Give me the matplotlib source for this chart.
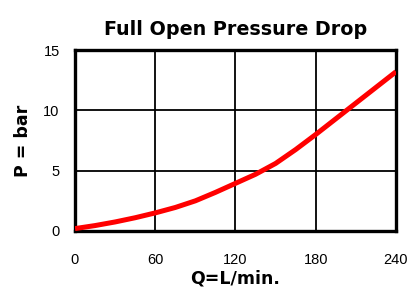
import matplotlib.pyplot as plt

# flow (L/min) and pressure drop (bar)
flow = [0, 15, 30, 45, 60, 75, 90, 105, 120, 135, 150, 165, 180, 195, 210, 225, 240]
pressure = [0.2, 0.45, 0.75, 1.1, 1.5, 1.95, 2.5, 3.2, 3.95, 4.7, 5.6, 6.75,
            8.0, 9.3, 10.6, 11.9, 13.2]
xticks = [0, 60, 120, 180, 240]
yticks = [0, 5, 10, 15]

plt.rcParams['font.family'] = ['Liberation Sans', 'DejaVu Sans']

fig = plt.figure(figsize=(4.14, 2.99), dpi=100, facecolor='white')
ax = fig.add_axes([75/414, 1 - 231/299, 321/414, 181/299])

ax.plot(flow, pressure, color='#ff0000', lw=3.6, solid_capstyle='butt', zorder=3)

ax.set_xlim(0, 240)
ax.set_ylim(0, 15)
ax.set_xticks(xticks)
ax.set_yticks(yticks)
ax.grid(True, color='black', lw=1.3)
ax.set_axisbelow(True)
for s in ax.spines.values():
    s.set_linewidth(2.4)
    s.set_color('black')
ax.tick_params(length=0, labelsize=10.5, pad=11)
ax.tick_params(axis='x', pad=16)

bold = dict(family='DejaVu Sans', fontsize=12.5, fontweight='bold')
ax.set_title('Full Open Pressure Drop', pad=11, fontsize=13.8,
             family='DejaVu Sans', fontweight='bold')
ax.set_xlabel('Q=L/min.', labelpad=2, **bold)
ax.set_ylabel('P = bar', labelpad=8, **bold)

fig.savefig('out.png', dpi=100)
